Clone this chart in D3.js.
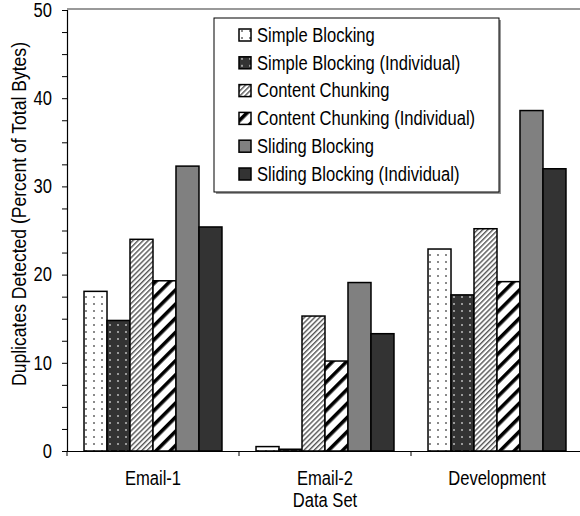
<!DOCTYPE html>
<html>
<head>
<meta charset="utf-8">
<script src="https://cdn.jsdelivr.net/npm/d3@7"></script>
<style>
  html, body { margin: 0; padding: 0; background: #fff; }
  svg { display: block; }
  svg text { font-family: "Liberation Sans", Arial, sans-serif; }
</style>
</head>
<body>
<svg id="chart" width="580" height="516"></svg>
<script>
// Data sets along the x axis
const categories = ["Email-1", "Email-2", "Development"];

// Detection methods (one bar each per data set)
const seriesNames = [
  "Simple Blocking",
  "Simple Blocking (Individual)",
  "Content Chunking",
  "Content Chunking (Individual)",
  "Sliding Blocking",
  "Sliding Blocking (Individual)"
];

// Percent of total bytes detected as duplicates, per method, in category order
const simpleBlocking        = [18.1, 0.5, 22.9];
const simpleBlockingIndiv   = [14.8, 0.2, 17.7];
const contentChunking       = [24.0, 15.3, 25.2];
const contentChunkingIndiv  = [19.3, 10.2, 19.2];
const slidingBlocking       = [32.3, 19.1, 38.6];
const slidingBlockingIndiv  = [25.4, 13.3, 32.0];

const seriesValues = [
  simpleBlocking, simpleBlockingIndiv,
  contentChunking, contentChunkingIndiv,
  slidingBlocking, slidingBlockingIndiv
];

const yMajorTicks = [0, 10, 20, 30, 40, 50];

// Text is set in a condensed style: a tall font squeezed horizontally
const FS = 19.5;
const SX = 0.85;

// Squeeze a text selection horizontally around its own anchor point
function condense(sel, sx) {
  sel.each(function () {
    const t = d3.select(this);
    const x = +(t.attr("x") || 0);
    const prev = t.attr("transform") || "";
    t.attr("x", x / sx).attr("transform", `${prev} scale(${sx},1)`.trim());
  });
}

const svg = d3.select("#chart");

// Plot geometry
const x0 = 67, x1 = 583, yTop = 10, yBot = 451;

// Fill patterns for each method
const defs = svg.append("defs");

function dotPattern(id, bg, dot) {
  const p = defs.append("pattern").attr("id", id)
    .attr("patternUnits", "userSpaceOnUse").attr("width", 8).attr("height", 7);
  p.append("rect").attr("width", 8).attr("height", 7).attr("fill", bg);
  p.append("rect").attr("x", 2).attr("y", 2).attr("width", 2).attr("height", 2).attr("fill", dot);
}
dotPattern("pSimple", "#ffffff", "#8a8a8a");
dotPattern("pSimpleInd", "#333333", "#9a9a9a");

function stripePattern(id, spacing, width, color) {
  const p = defs.append("pattern").attr("id", id)
    .attr("patternUnits", "userSpaceOnUse").attr("width", spacing).attr("height", spacing)
    .attr("patternTransform", "rotate(45)");
  p.append("rect").attr("width", spacing).attr("height", spacing).attr("fill", "#fff");
  p.append("rect").attr("x", 0).attr("y", 0).attr("width", width).attr("height", spacing).attr("fill", color);
}
stripePattern("pChunk", 3.6, 1.4, "#555555");
stripePattern("pChunkInd", 10, 3.6, "#000000");

const fills = ["url(#pSimple)", "url(#pSimpleInd)", "url(#pChunk)", "url(#pChunkInd)", "#808080", "#333333"];

// Scales
const y = d3.scaleLinear().domain([0, 50]).range([yBot, yTop]);
const xCat = d3.scaleBand().domain(categories).range([x0, x1]).paddingInner(0).paddingOuter(0);
const xSer = d3.scaleBand().domain(d3.range(seriesNames.length))
  .range([0, xCat.bandwidth()]).paddingInner(0).paddingOuter(0.74);

// Top frame line of the plot area
svg.append("line").attr("x1", x0).attr("x2", 580).attr("y1", yTop - 1).attr("y2", yTop - 1)
  .attr("stroke", "#999").attr("stroke-width", 2);

// Bars
const groups = svg.append("g").selectAll("g").data(categories).join("g")
  .attr("transform", d => `translate(${xCat(d)},0)`);
groups.selectAll("rect")
  .data((c, ci) => seriesValues.map((vals, si) => ({ si, v: vals[ci] })))
  .join("rect")
  .attr("x", d => xSer(d.si))
  .attr("width", xSer.bandwidth())
  .attr("y", d => y(d.v))
  .attr("height", d => y(0) - y(d.v))
  .attr("fill", d => fills[d.si])
  .attr("stroke", "#000")
  .attr("stroke-width", 1.5);

// Y axis
const yAxis = d3.axisLeft(y).tickValues(d3.range(0, 50.01, 2.5)).tickSize(5)
  .tickFormat(d => (yMajorTicks.includes(d) ? d : ""));
const gy = svg.append("g").attr("transform", `translate(${x0},0)`).call(yAxis)
  .attr("font-family", null).attr("font-size", null);
gy.select(".domain").attr("stroke", "#000").attr("stroke-width", 1.2);
gy.selectAll(".tick line").attr("stroke", "#000");
gy.selectAll(".tick text").attr("font-size", FS).attr("fill", "#000").attr("x", -15)
  .call(condense, SX);

// X axis
const xAxis = d3.axisBottom(xCat).tickSize(0).tickSizeOuter(0);
const gx = svg.append("g").attr("transform", `translate(0,${yBot})`).call(xAxis)
  .attr("font-family", null).attr("font-size", null);
gx.select(".domain").attr("stroke", "#000").attr("stroke-width", 1.2);
gx.selectAll(".tick text").attr("font-size", FS).attr("fill", "#000").attr("y", 27).attr("dy", "0.35em")
  .call(condense, SX);
// Separator ticks between categories
svg.append("g").selectAll("line").data(categories).join("line")
  .attr("x1", d => xCat(d)).attr("x2", d => xCat(d))
  .attr("y1", yBot).attr("y2", yBot + 5).attr("stroke", "#000");

// Axis titles
svg.append("text").attr("transform", "translate(325,500)").attr("dy", "0.35em")
  .attr("text-anchor", "middle").attr("font-size", FS).text("Data Set")
  .call(condense, SX);
svg.append("text").attr("transform", "translate(19,214) rotate(-90)")
  .attr("text-anchor", "middle").attr("dy", "0.35em").attr("font-size", FS)
  .text("Duplicates Detected (Percent of Total Bytes)")
  .call(condense, 0.9);

// Legend
const lg = svg.append("g").attr("transform", "translate(214,18)");
lg.append("rect").attr("x", 2).attr("y", 2).attr("width", 285).attr("height", 174).attr("fill", "#999");
lg.append("rect").attr("width", 285).attr("height", 174).attr("fill", "#fff")
  .attr("stroke", "#000").attr("stroke-width", 1);
const items = lg.selectAll("g.item").data(seriesNames).join("g").attr("class", "item")
  .attr("transform", (d, i) => `translate(25,${17 + i * 27.8})`);
items.append("rect").attr("x", 0).attr("y", -6).attr("width", 12).attr("height", 12)
  .attr("fill", (d, i) => fills[i]).attr("stroke", "#000").attr("stroke-width", 1.5);
items.append("text").attr("x", 18).attr("y", 0).attr("dy", "0.35em")
  .attr("font-size", FS).text(d => d)
  .call(condense, SX);
</script>
</body>
</html>
